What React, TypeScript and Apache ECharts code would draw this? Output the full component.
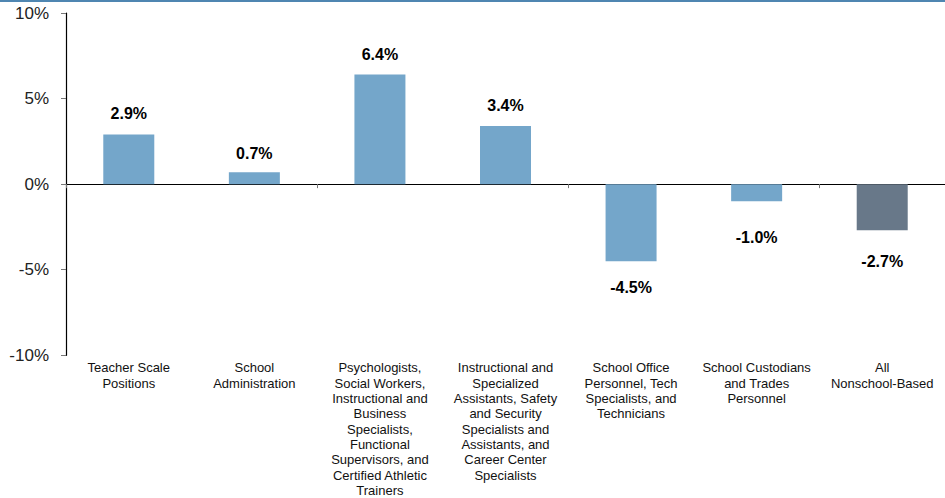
import React, { useEffect, useRef } from "react";
import * as echarts from "echarts";

const categories = [
  "Teacher Scale\nPositions",
  "School\nAdministration",
  "Psychologists,\nSocial Workers,\nInstructional and\nBusiness\nSpecialists,\nFunctional\nSupervisors, and\nCertified Athletic\nTrainers",
  "Instructional and\nSpecialized\nAssistants, Safety\nand Security\nSpecialists and\nAssistants, and\nCareer Center\nSpecialists",
  "School Office\nPersonnel, Tech\nSpecialists, and\nTechnicians",
  "School Custodians\nand Trades\nPersonnel",
  "All\nNonschool-Based",
];
const values = [2.9, 0.7, 6.4, 3.4, -4.5, -1.0, -2.7];
const highlighted = [false, false, false, false, false, false, true];
const yTicks = [-10, -5, 0, 5, 10];

const LIGHT = "#74A6CA";
const DARK = "#687889";
const labelDistances = [13, 11, 12, 12, 18, 28, 23];

export default function App() {
  const ref = useRef<HTMLDivElement>(null);
  useEffect(() => {
    document.body.style.margin = "0";
    const chart = echarts.init(ref.current!, null, { renderer: "svg" });
    const font = "Liberation Sans, Arial, sans-serif";
    chart.setOption({
      animation: false,
      textStyle: { fontFamily: font },
      grid: { left: 66, right: 0, top: 13, bottom: 141, containLabel: false },
      graphic: [
        {
          type: "rect",
          shape: { x: 0, y: 0, width: 945, height: 2 },
          style: { fill: "#4F86B1" },
        },
      ],
      xAxis: [
        {
          type: "category",
          data: categories,
          position: "bottom",
          axisLine: { show: false, onZero: false },
          axisTick: { show: false },
          axisLabel: {
            interval: 0,
            margin: 5,
            fontSize: 13,
            lineHeight: 15.3,
            color: "#111",
            fontFamily: font,
          },
        },
        {
          type: "category",
          data: categories,
          position: "bottom",
          axisLine: { show: true, onZero: true, lineStyle: { color: "#000", width: 1.2 } },
          axisTick: { show: true, length: 4, inside: false, lineStyle: { color: "#777" } },
          axisLabel: { show: false },
        },
      ],
      yAxis: {
        type: "value",
        min: yTicks[0],
        max: yTicks[yTicks.length - 1],
        interval: 5,
        axisLine: { show: true, lineStyle: { color: "#000", width: 1.2 } },
        axisTick: { show: true, length: 5, lineStyle: { color: "#777" } },
        splitLine: { show: false },
        axisLabel: {
          formatter: (v: number) => `${v}%`,
          fontSize: 17,
          color: "#222",
          margin: 17,
          fontFamily: font,
        },
      },
      series: [
        {
          type: "bar",
          xAxisIndex: 0,
          barWidth: 51,
          data: values.map((v, i) => ({
            value: v,
            itemStyle: { color: highlighted[i] ? DARK : LIGHT },
            label: {
              show: true,
              position: v >= 0 ? "top" : "bottom",
              distance: labelDistances[i],
              formatter: `${v.toFixed(1)}%`,
              fontSize: 16,
              fontWeight: "bold",
              color: "#000",
              fontFamily: font,
            },
          })),
        },
      ],
    });
    return () => chart.dispose();
  }, []);
  return <div ref={ref} style={{ width: 945, height: 498 }} />;
}
